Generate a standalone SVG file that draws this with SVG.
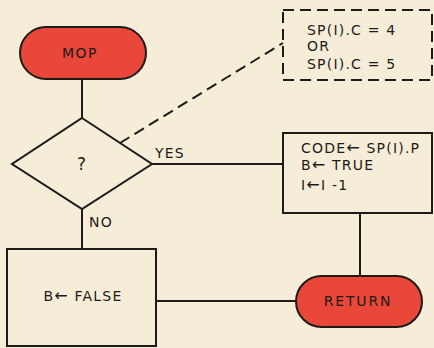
<svg xmlns="http://www.w3.org/2000/svg" width="434" height="348" viewBox="0 0 434 348">
<style>
.bg{fill:#f6edd8}
.term{fill:#e8473a;stroke:#1e1a18;stroke-width:2}
.box{fill:none;stroke:#1e1a18;stroke-width:2}
.dash{fill:none;stroke:#1e1a18;stroke-width:2;stroke-dasharray:11,6}
.ln{fill:none;stroke:#1e1a18;stroke-width:2}
text{font-family:"DejaVu Sans","Liberation Sans",sans-serif;font-size:14px;fill:#1e1a18;letter-spacing:1.2px}
.c{text-anchor:middle}
.ar{font-size:16px}
</style>
<rect class="bg" x="0" y="0" width="434" height="348"/>
<g id="connectors">
<line class="ln" x1="82" y1="79" x2="82" y2="118"/>
<line class="ln" x1="152" y1="164" x2="283" y2="164"/>
<line class="ln" x1="82" y1="209" x2="82" y2="249"/>
<line class="ln" x1="156" y1="301" x2="296" y2="301"/>
<line class="ln" x1="360" y1="213" x2="360" y2="276"/>
<line class="dash" x1="120" y1="143" x2="283" y2="43"/>
<text x="155" y="158">YES</text>
<text x="89" y="227">NO</text>
</g>
<g id="mop">
<rect class="term" x="20" y="27" width="126" height="52" rx="26"/>
<text class="c" x="80" y="58" style="letter-spacing:1.5px">MOP</text>
</g>
<g id="decision">
<polygon class="box" points="82,118 152,164 82,209 12,164"/>
<text class="c" x="82" y="170" style="font-size:17px">?</text>
</g>
<g id="note">
<rect class="dash" x="283" y="10" width="149" height="70"/>
<text x="307" y="35">SP(I).C = 4</text>
<text x="307" y="51">OR</text>
<text x="307" y="69">SP(I).C = 5</text>
</g>
<g id="assign">
<rect class="box" x="283" y="133" width="149" height="80"/>
<text x="301" y="153">CODE<tspan class="ar">←</tspan> SP(I).P</text>
<text x="301" y="170">B<tspan class="ar">←</tspan> TRUE</text>
<text x="301" y="190">I<tspan class="ar">←</tspan>I -1</text>
</g>
<g id="false">
<rect class="box" x="7" y="249" width="149" height="97"/>
<text class="c" x="83" y="301">B<tspan class="ar">←</tspan> FALSE</text>
</g>
<g id="return">
<rect class="term" x="296" y="276" width="126" height="51" rx="25.5"/>
<text class="c" x="358" y="306" style="letter-spacing:1.8px">RETURN</text>
</g>
</svg>
